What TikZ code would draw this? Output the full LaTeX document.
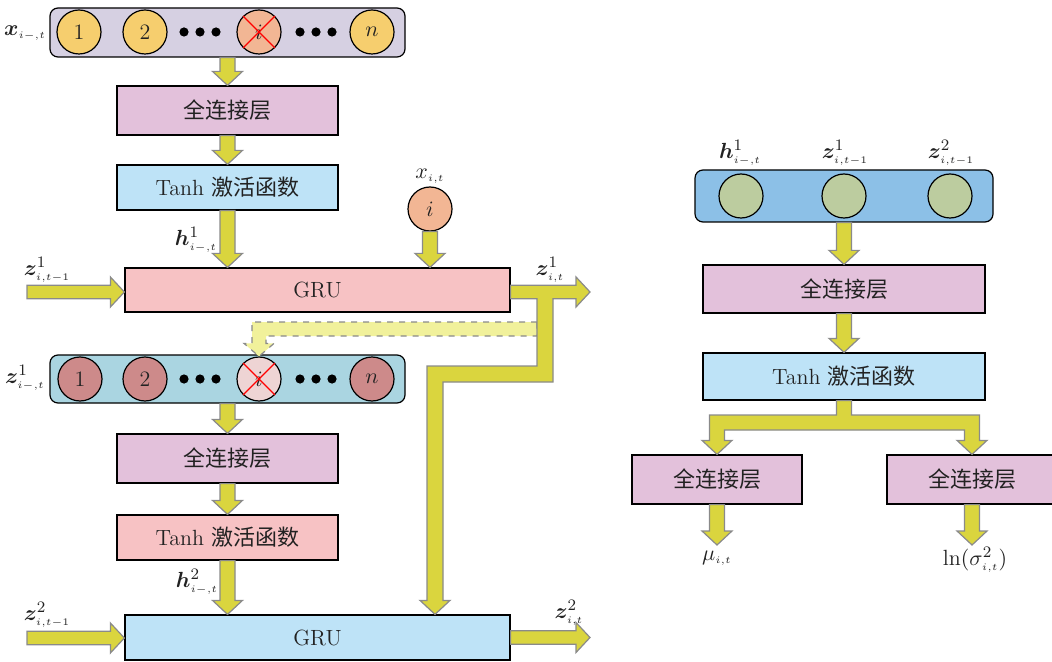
\documentclass[tikz,border=0pt]{standalone}
\usepackage{fontspec}
\usepackage{amsmath,bm}
\newfontfamily\cjk{Noto Sans CJK SC}
\usetikzlibrary{calc}

\definecolor{arrowfill}{HTML}{DAD53E}
\definecolor{arrowline}{HTML}{8A8A8A}
\definecolor{dashfill}{HTML}{F1F19B}
\definecolor{lav}{HTML}{D6D0E2}
\definecolor{fcpink}{HTML}{E3C1DB}
\definecolor{tanhblue}{HTML}{BEE3F7}
\definecolor{grupink}{HTML}{F7C2C4}
\definecolor{yellowc}{HTML}{F6CE6E}
\definecolor{peach}{HTML}{F2B694}
\definecolor{tealc}{HTML}{AAD5E1}
\definecolor{rosec}{HTML}{CD8A8A}
\definecolor{palerose}{HTML}{EED4D4}
\definecolor{bluec}{HTML}{8CC0E7}
\definecolor{sage}{HTML}{BCCC9F}
\definecolor{inkc}{HTML}{222222}

% small subscripts for the state labels
\newcommand\ssub[1]{_{\scriptscriptstyle #1}}

\tikzset{
  fat/.style={fill=arrowfill, draw=arrowline, line width=0.6pt, line join=miter},
  dashfat/.style={fill=dashfill, draw=arrowline, line width=0.6pt, dashed},
  box/.style={draw=black, line width=0.6pt, minimum width=110.5pt, minimum height=24.5pt, inner sep=0pt, text=inkc},
  grubox/.style={draw=black, line width=0.6pt, minimum width=192.5pt, minimum height=22pt, inner sep=0pt, text=inkc},
  cont/.style={draw=black, line width=0.6pt, rounded corners=4pt, inner sep=0pt},
  cir/.style={circle, draw=black, line width=0.6pt, minimum size=22pt, inner sep=0pt, text=inkc},
  lbl/.style={inner sep=1pt, text=inkc},
}

% vertical block arrow from #1 straight down to the height of #2
\newcommand\varrow[2]{%
  \path[fat] let \p1=#1, \p2=#2 in
   (\x1-3.75pt,\y1) -- (\x1+3.75pt,\y1) -- (\x1+3.75pt,\y2+7pt) -- (\x1+7.5pt,\y2+7pt)
   -- (\x1,\y2) -- (\x1-7.5pt,\y2+7pt) -- (\x1-3.75pt,\y2+7pt) -- cycle;}
% horizontal block arrow from #1 to the x of #2
\newcommand\harrow[2]{%
  \path[fat] let \p1=#1, \p2=#2 in
   (\x1,\y1+3.4pt) -- (\x2-7pt,\y1+3.4pt) -- (\x2-7pt,\y1+7.5pt) -- (\x2,\y1)
   -- (\x2-7pt,\y1-7.5pt) -- (\x2-7pt,\y1-3.4pt) -- (\x1,\y1-3.4pt) -- cycle;}

\begin{document}
\begin{tikzpicture}[x=0.5pt, y=-0.5pt, font=\fontsize{11}{13}\selectfont]
\useasboundingbox (0,0) rectangle (1052,662);

% ---------- first input row ----------
\node[cont, fill=lav, minimum width=177.5pt, minimum height=24.5pt] (row1) at (227.5,32.5) {};
\node[cir, fill=yellowc] (a1) at (79,32) {1};
\node[cir, fill=yellowc] (a2) at (145,32) {2};
\node[cir, fill=peach] (ai) at (259,32) {$i$};
\node[cir, fill=yellowc] (an) at (372,32) {$n$};
\draw[red, line width=0.6pt] (ai.north west) -- (ai.south east) (ai.north east) -- (ai.south west);
\foreach \x in {184,200,216,300,316,332} \fill (\x,32) circle (2.3pt);
\node[lbl] (lx) at (25,33) {$\bm{x}\ssub{i-,t}$};

\node[box, fill=fcpink] (fc1) at (227.5,110.5) {\cjk 全连接层};
\node[box, fill=tanhblue, minimum height=22.5pt] (th1) at (227.5,187.5) {Tanh {\cjk 激活函数}};
\node[grubox, fill=grupink] (gru1) at (317.5,290) {GRU};
\node[cir, fill=peach] (xi) at (430,209) {$i$};
\node[lbl] (lxi) at (430,176) {$x\ssub{i,t}$};
\node[lbl] (lh1) at (196,240) {$\bm{h}^1\ssub{i-,t}$};
\node[lbl] (lz1in) at (47,270) {$\bm{z}^1\ssub{i,t-1}$};
\node[lbl] (lz1out) at (550,270) {$\bm{z}^1\ssub{i,t}$};
\coordinate (z1in) at (27,292);
\coordinate (z1out) at (590,292);
\coordinate (bendA) at (545,374);
\coordinate (bendB) at (435,374);
\coordinate (dashy) at (545,329);

% ---------- second input row ----------
\node[cont, fill=tealc, minimum width=177.5pt, minimum height=24pt] (row2) at (227.5,379) {};
\node[cir, fill=rosec] (b1) at (80,379) {1};
\node[cir, fill=rosec] (b2) at (145,379) {2};
\node[cir, fill=palerose] (bi) at (259,379) {$i$};
\node[cir, fill=rosec] (bn) at (372,379) {$n$};
\draw[red, line width=0.6pt] (bi.north west) -- (bi.south east) (bi.north east) -- (bi.south west);
\foreach \x in {184,200,216,300,316,332} \fill (\x,379) circle (2.3pt);
\node[lbl] (lz1) at (25,378) {$\bm{z}^1\ssub{i-,t}$};

\node[box, fill=fcpink] (fc2) at (227.5,458.5) {\cjk 全连接层};
\node[box, fill=grupink, minimum height=22.5pt] (th2) at (227.5,537.5) {Tanh {\cjk 激活函数}};
\node[grubox, fill=tanhblue, minimum height=22.5pt] (gru2) at (317.5,637.5) {GRU};
\node[lbl] (lh2) at (197,582) {$\bm{h}^2\ssub{i-,t}$};
\node[lbl] (lz2in) at (47,615) {$\bm{z}^2\ssub{i,t-1}$};
\node[lbl] (lz2out) at (569,613) {$\bm{z}^2\ssub{i,t}$};
\coordinate (z2in) at (27,638);
\coordinate (z2out) at (590,638);

% ---------- output head ----------
\node[cont, fill=bluec, minimum width=149pt, minimum height=26pt] (row3) at (844,196) {};
\node[cir, fill=sage] (c1) at (741,196) {};
\node[cir, fill=sage] (c2) at (844,196) {};
\node[cir, fill=sage] (c3) at (950,196) {};
\node[lbl] (lc1) at (740,153) {$\bm{h}^1\ssub{i-,t}$};
\node[lbl] (lc2) at (845,153) {$\bm{z}^1\ssub{i,t-1}$};
\node[lbl] (lc3) at (951,153) {$\bm{z}^2\ssub{i,t-1}$};
\node[box, fill=fcpink, minimum width=141pt, minimum height=24pt] (fc3) at (844,289) {\cjk 全连接层};
\node[box, fill=tanhblue, minimum width=141pt, minimum height=23.5pt] (th3) at (844,376.5) {Tanh {\cjk 激活函数}};
\node[box, fill=fcpink, minimum width=85pt] (fc4) at (717,479.5) {\cjk 全连接层};
\node[box, fill=fcpink, minimum width=85pt] (fc5) at (972,479.5) {\cjk 全连接层};
\coordinate (splity) at (844,422.5);
\coordinate (muend) at (717,545);
\coordinate (lnend) at (972,545);
\node[lbl] (lmu) at (717,558) {$\mu\ssub{i,t}$};
\node[lbl] (lln) at (975,560) {$\ln(\sigma^2\ssub{i,t})$};

% ---------- block arrows ----------
\varrow{(row1.south)}{(fc1.north)}
\varrow{(fc1.south)}{(th1.north)}
\varrow{(th1.south)}{(gru1.north)}
\varrow{(xi.south)}{(gru1.north)}
\harrow{(z1in)}{(gru1.west)}

% dashed copy of the state into the i-th slot of the second row
\path[dashfat] let \p1=(bendA), \p2=(bi.north), \p3=(dashy) in
  (\x1-4pt,\y3+3.5pt) -- (\x2-3.5pt,\y3+3.5pt) -- (\x2-3.5pt,\y2+6.5pt) -- (\x2-7.5pt,\y2+6.5pt)
  -- (\x2,\y2) -- (\x2+7.5pt,\y2+6.5pt) -- (\x2+3.5pt,\y2+6.5pt) -- (\x2+3.5pt,\y3-3.5pt)
  -- (\x1-4pt,\y3-3.5pt) -- cycle;

% state output of the first GRU, branching down into the second GRU
\path[fat] let \p1=(gru1.east), \p2=(z1out), \p3=(bendA), \p4=(bendB), \p5=(gru2.north) in
  (\x1,\y2+3.4pt) -- (\x2-7pt,\y2+3.4pt) -- (\x2-7pt,\y2+7.5pt) -- (\x2,\y2)
  -- (\x2-7pt,\y2-7.5pt) -- (\x2-7pt,\y2-3.4pt) -- (\x3+4pt,\y2-3.4pt)
  -- (\x3+4pt,\y3-4pt) -- (\x4+4pt,\y3-4pt) -- (\x4+4pt,\y5+7pt) -- (\x4+7.5pt,\y5+7pt)
  -- (\x4,\y5) -- (\x4-7.5pt,\y5+7pt) -- (\x4-4pt,\y5+7pt) -- (\x4-4pt,\y3+4pt)
  -- (\x3-4pt,\y3+4pt) -- (\x3-4pt,\y2-3.4pt) -- (\x1,\y2-3.4pt) -- cycle;

\varrow{(row2.south)}{(fc2.north)}
\varrow{(fc2.south)}{(th2.north)}
\varrow{(th2.south)}{(gru2.north)}
\harrow{(z2in)}{(gru2.west)}
\harrow{(gru2.east)}{(z2out)}

\varrow{(row3.south)}{(fc3.north)}
\varrow{(fc3.south)}{(th3.north)}
% split into the two output layers
\path[fat] let \p1=(th3.south), \p2=(fc4.north), \p3=(fc5.north), \p4=(splity) in
  (\x1-3.75pt,\y1) -- (\x1+3.75pt,\y1) -- (\x1+3.75pt,\y4+3.75pt) -- (\x3+3.75pt,\y4+3.75pt)
  -- (\x3+3.75pt,\y3+7pt) -- (\x3+7.5pt,\y3+7pt) -- (\x3,\y3) -- (\x3-7.5pt,\y3+7pt)
  -- (\x3-3.75pt,\y3+7pt) -- (\x3-3.75pt,\y4-3.75pt) -- (\x2+3.75pt,\y4-3.75pt)
  -- (\x2+3.75pt,\y2+7pt) -- (\x2+7.5pt,\y2+7pt) -- (\x2,\y2) -- (\x2-7.5pt,\y2+7pt)
  -- (\x2-3.75pt,\y2+7pt) -- (\x2-3.75pt,\y4+3.75pt) -- (\x1-3.75pt,\y4+3.75pt) -- cycle;
\varrow{(fc4.south)}{(muend)}
\varrow{(fc5.south)}{(lnend)}
\end{tikzpicture}
\end{document}
